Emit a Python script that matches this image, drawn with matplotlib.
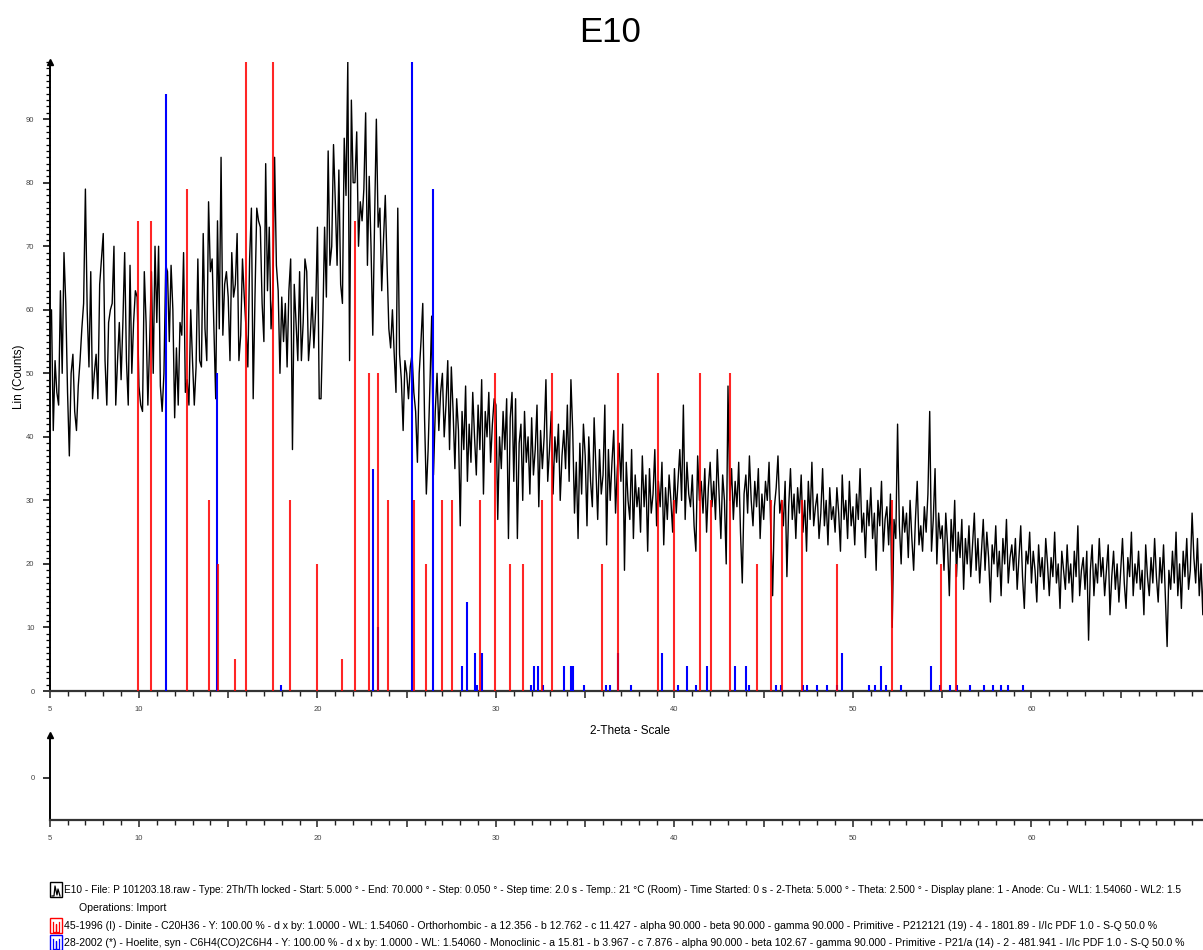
import numpy as np
import matplotlib.pyplot as plt
from matplotlib.patches import Rectangle
from matplotlib.lines import Line2D
from matplotlib.ticker import MultipleLocator, FuncFormatter

plt.rcParams['font.family'] = ['Liberation Sans', 'DejaVu Sans']

# measured scan E10, read every 0.1 deg 2-theta (5.0 ... 70.0)
counts_05_10 = [58, 60, 41, 52, 47, 45, 63, 50, 69, 61,
                47, 37, 50, 53, 44, 41, 48, 52, 57, 61,
                79, 60, 51, 66, 46, 50, 53, 46, 64, 68,
                72, 52, 45, 58, 60, 61, 70, 45, 52, 58,
                49, 58, 69, 52, 45, 67, 50, 58, 63, 62]
counts_10_15 = [48, 45, 44, 66, 58, 45, 55, 66, 50, 70,
                58, 70, 48, 44, 50, 67, 66, 55, 67, 60,
                43, 54, 45, 58, 56, 69, 47, 49, 45, 60,
                52, 45, 51, 68, 52, 51, 72, 57, 52, 77,
                66, 68, 57, 46, 74, 57, 84, 56, 64, 66]
counts_15_20 = [62, 52, 69, 62, 64, 72, 52, 56, 68, 62,
                57, 51, 68, 76, 46, 62, 76, 74, 73, 61,
                55, 83, 63, 73, 57, 62, 84, 67, 63, 50,
                62, 55, 61, 51, 63, 68, 38, 64, 58, 52,
                66, 52, 58, 68, 66, 52, 56, 62, 54, 60]
counts_20_25 = [73, 46, 46, 58, 73, 62, 85, 67, 70, 86,
                77, 67, 82, 64, 61, 87, 78, 99, 52, 93,
                80, 80, 88, 70, 77, 74, 79, 91, 67, 81,
                70, 56, 74, 90, 73, 76, 63, 71, 78, 67,
                57, 54, 60, 53, 47, 76, 53, 49, 41, 52]
counts_25_30 = [50, 46, 51, 53, 47, 44, 36, 50, 55, 61,
                43, 31, 38, 48, 59, 34, 44, 50, 41, 47,
                50, 40, 45, 52, 38, 51, 44, 35, 46, 41,
                26, 44, 38, 48, 33, 42, 36, 47, 40, 34,
                45, 38, 49, 31, 44, 40, 47, 36, 42, 46]
counts_30_35 = [45, 27, 40, 35, 44, 38, 46, 24, 43, 47,
                33, 46, 24, 39, 42, 30, 44, 36, 40, 31,
                43, 34, 38, 45, 29, 41, 35, 40, 49, 33,
                38, 44, 31, 40, 36, 42, 30, 37, 41, 35,
                45, 33, 49, 41, 28, 36, 24, 39, 31, 42]
counts_35_40 = [37, 26, 40, 33, 29, 43, 35, 27, 38, 31,
                34, 45, 23, 38, 30, 36, 41, 28, 35, 39,
                33, 42, 19, 36, 30, 27, 38, 24, 34, 29,
                32, 25, 37, 29, 34, 22, 35, 28, 31, 38,
                26, 33, 29, 36, 23, 32, 27, 34, 30, 25]
counts_40_45 = [35, 28, 33, 38, 30, 45, 27, 36, 31, 29,
                34, 26, 22, 37, 30, 33, 28, 35, 25, 32,
                36, 29, 33, 27, 38, 31, 24, 34, 30, 20,
                48, 30, 35, 27, 33, 29, 36, 25, 17, 31,
                34, 28, 37, 30, 26, 33, 29, 35, 24, 31]
counts_45_50 = [27, 33, 30, 36, 25, 15, 29, 32, 37, 28,
                30, 26, 33, 18, 29, 35, 27, 31, 24, 32,
                28, 34, 25, 30, 22, 33, 27, 36, 26, 29,
                31, 24, 28, 35, 26, 30, 23, 32, 27, 29,
                25, 32, 28, 22, 34, 27, 30, 24, 33, 26]
counts_50_55 = [29, 23, 31, 27, 35, 25, 28, 21, 30, 26,
                32, 24, 28, 19, 30, 26, 33, 22, 27, 29,
                23, 31, 10, 27, 24, 42, 26, 20, 29, 25,
                28, 21, 30, 24, 19, 27, 33, 23, 26, 22,
                29, 25, 31, 44, 22, 27, 35, 20, 28, 24]
counts_55_60 = [26, 19, 28, 23, 15, 27, 22, 30, 18, 25,
                21, 27, 16, 24, 20, 26, 18, 23, 28, 19,
                24, 17, 22, 27, 19, 25, 21, 14, 23, 20,
                26, 18, 22, 15, 24, 20, 27, 17, 21, 23,
                19, 24, 16, 21, 26, 18, 13, 22, 20, 25]
counts_60_65 = [17, 22, 19, 14, 23, 18, 21, 16, 24, 20,
                15, 21, 18, 25, 17, 20, 13, 22, 19, 16,
                23, 17, 20, 14, 22, 18, 26, 15, 19, 21,
                16, 22, 8, 19, 23, 15, 20, 17, 24, 18,
                21, 15, 19, 23, 12, 18, 22, 16, 20, 14]
counts_65_70 = [19, 24, 17, 13, 21, 18, 25, 15, 20, 17,
                22, 16, 19, 12, 23, 18, 15, 21, 17, 24,
                18, 14, 21, 17, 23, 15, 7, 19, 16, 22,
                17, 25, 15, 20, 13, 22, 18, 24, 16, 19,
                28, 21, 17, 24, 15, 20, 12, 23, 18, 16,
                15]

# PDF reference patterns: 2-theta and relative intensity
dinite_pos = [9.95, 10.66, 12.67, 13.94, 14.44, 15.39, 16.02, 17.51, 18.46, 19.99,
              21.35, 22.09, 22.89, 23.41, 23.96, 25.41, 26.06, 26.96, 27.51, 29.08,
              29.93, 30.77, 31.50, 32.57, 33.16, 35.93, 36.84, 39.08, 39.95, 41.44,
              42.06, 43.10, 44.64, 45.39, 46.04, 47.12, 49.13, 52.17, 54.92, 55.76]
dinite_int = [74, 74, 79, 30, 20, 5, 100, 100, 30, 20,
              5, 74, 50, 50, 30, 30, 20, 30, 30, 30,
              50, 20, 20, 30, 50, 20, 50, 50, 30, 50,
              30, 50, 20, 30, 30, 30, 20, 30, 20, 20]
hoelite_pos = [11.54, 14.36, 17.98, 23.13, 23.41, 25.27, 26.49, 28.09, 28.37, 28.85,
               28.93, 29.21, 31.98, 32.13, 32.34, 32.63, 33.83, 34.22, 34.31, 34.94,
               36.19, 36.41, 36.84, 37.57, 39.32, 40.20, 40.70, 41.18, 41.85, 43.40,
               43.99, 44.16, 45.67, 45.98, 47.18, 47.44, 47.96, 48.54, 49.08, 49.39,
               50.92, 51.26, 51.59, 51.87, 52.71, 54.40, 54.89, 55.42, 55.84, 56.58,
               57.36, 57.87, 58.27, 58.69, 59.54]
hoelite_int = [94, 50, 1, 35, 10, 100, 79, 4, 14, 6,
               1, 6, 1, 4, 4, 1, 4, 4, 4, 1,
               1, 1, 6, 1, 6, 1, 4, 1, 4, 4,
               4, 1, 1, 1, 1, 1, 1, 1, 1, 6,
               1, 1, 4, 1, 1, 4, 1, 1, 1, 1,
               1, 1, 1, 1, 1]

legend_lines = [
    "E10 - File: P 101203.18.raw - Type: 2Th/Th locked - Start: 5.000 \u00b0 - End: 70.000 \u00b0 - Step: 0.050 \u00b0 - Step time: 2.0 s - Temp.: 21 \u00b0C (Room) - Time Started: 0 s - 2-Theta: 5.000 \u00b0 - Theta: 2.500 \u00b0 - Display plane: 1 - Anode: Cu - WL1: 1.54060 - WL2: 1.5",
    "Operations: Import",
    "45-1996 (I) - Dinite - C20H36 - Y: 100.00 % - d x by: 1.0000 - WL: 1.54060 - Orthorhombic - a 12.356 - b 12.762 - c 11.427 - alpha 90.000 - beta 90.000 - gamma 90.000 - Primitive - P212121 (19) - 4 - 1801.89 - I/Ic PDF 1.0 - S-Q 50.0 %",
    "28-2002 (*) - Hoelite, syn - C6H4(CO)2C6H4 - Y: 100.00 % - d x by: 1.0000 - WL: 1.54060 - Monoclinic - a 15.81 - b 3.967 - c 7.876 - alpha 90.000 - beta 102.67 - gamma 90.000 - Primitive - P21/a (14) - 2 - 481.941 - I/Ic PDF 1.0 - S-Q 50.0 %",
]
legend_sizes = [7.25, 7.6, 7.6, 7.6]

W, H = 1203, 950


def x_label(v, pos):
    k = int(round(v))
    if k == 5 or (k % 10 == 0 and k < 70):
        return str(k)
    return ""


def style_axis(ax):
    for s in ['top', 'right']:
        ax.spines[s].set_visible(False)
    ax.spines['left'].set_linewidth(1.4)
    ax.spines['bottom'].set_linewidth(1.6)
    ax.spines['bottom'].set_color('#333333')
    ax.set_xlim(5, 70)
    ax.xaxis.set_major_locator(MultipleLocator(5))
    ax.xaxis.set_minor_locator(MultipleLocator(1))
    ax.xaxis.set_major_formatter(FuncFormatter(x_label))
    ax.tick_params(axis='x', which='major', direction='out', length=5.2, width=1.1,
                   color='#222222', labelsize=5.5, labelcolor='#444444', pad=5.5)
    ax.tick_params(axis='x', which='minor', direction='out', length=3.6, width=1.0,
                   color='#222222')
    ax.tick_params(axis='y', which='major', direction='out', length=5, width=1.1,
                   labelsize=5.5, labelcolor='#444444', pad=6)
    ax.tick_params(axis='y', which='minor', direction='out', length=3, width=0.9)
    # little arrow head on top of the y axis
    ax.plot([0], [1], marker='^', ms=4, color='black', transform=ax.transAxes,
            clip_on=False)


def main():
    counts = np.array(counts_05_10 + counts_10_15 + counts_15_20 + counts_20_25 +
                      counts_25_30 + counts_30_35 + counts_35_40 + counts_40_45 +
                      counts_45_50 + counts_50_55 + counts_55_60 + counts_60_65 +
                      counts_65_70, dtype=float)
    two_theta = np.round(5.0 + 0.1 * np.arange(len(counts)), 2)

    fig = plt.figure(figsize=(W / 100, H / 100), dpi=100)

    x0 = 49.7 / W
    xw = 65 * 17.85 / W

    ax = fig.add_axes([x0, (H - 691) / H, xw, (691 - 62) / H])
    ax.plot(two_theta, counts, color='black', lw=1.0, zorder=2)
    ax.vlines(hoelite_pos, 0, hoelite_int, colors='#0000ff', lw=1.5, zorder=3)
    ax.vlines(dinite_pos, 0, dinite_int, colors='#ff0000', lw=1.5, alpha=0.85, zorder=4)
    ax.set_ylim(0, 99)
    ax.yaxis.set_major_locator(MultipleLocator(10))
    ax.yaxis.set_minor_locator(MultipleLocator(1))
    style_axis(ax)
    ax.set_ylabel("Lin (Counts)", fontsize=8.5)
    ax.yaxis.set_label_coords(-0.021, 0.5)

    fig.text(630 / W, 1 - 731 / H, "2-Theta - Scale", ha='center', va='center', fontsize=8.5)
    fig.text(610 / W, 1 - 33 / H, "E10", ha='center', va='center', fontsize=25)

    # empty difference panel below
    ax2 = fig.add_axes([x0, (H - 820) / H, xw, (820 - 735) / H])
    ax2.set_ylim(-1, 1)
    ax2.set_yticks([0])
    style_axis(ax2)

    # legend block at the bottom
    rows = [890, 908, 926, 943]
    for i, (txt, y) in enumerate(zip(legend_lines, rows)):
        xt = 79 if i == 1 else 64
        fig.text(xt / W, 1 - y / H, txt, ha='left', va='center', fontsize=legend_sizes[i])

    icon_colors = {0: 'black', 2: '#ff0000', 3: '#0000ff'}
    for i, c in icon_colors.items():
        y = rows[i]
        fig.patches.append(Rectangle((50 / W, 1 - (y + 7) / H), 12 / W, 15 / H,
                                     transform=fig.transFigure, fill=False,
                                     edgecolor=c, lw=1.0))
        if i == 0:
            gx = [52, 54, 55, 57, 58, 60]
            gy = [y + 6, y + 6, y - 4, y + 5, y - 1, y + 6]
        else:
            gx = [53, 53, 56, 56, 56, 59, 59]
            gy = [y - 4, y + 6, y + 6, y - 2, y + 6, y + 6, y - 4]
        fig.lines.append(Line2D([v / W for v in gx], [1 - v / H for v in gy],
                                transform=fig.transFigure, color=c, lw=0.9))

    fig.savefig("out.png", dpi=100)


if __name__ == "__main__":
    main()
